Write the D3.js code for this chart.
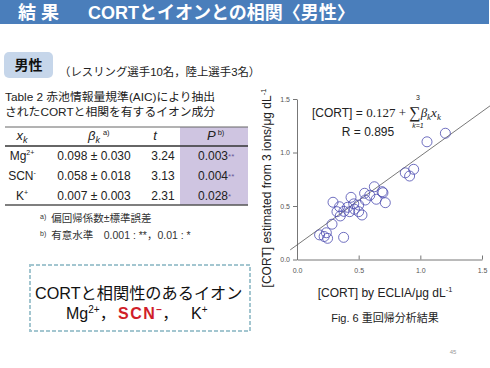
<!DOCTYPE html>
<html><head><meta charset="utf-8">
<script src="https://cdn.jsdelivr.net/npm/d3@7"></script>
<style>
body{margin:0;background:#fff}
svg{display:block}
text{font-family:"Liberation Sans",Arial,"Noto Sans CJK JP",sans-serif}
</style>
</head><body>
<script>
// ---------- data ----------
const ionNames = ["Mg", "SCN", "K"];
const ionCharges = ["2+", "-", "+"];
const betaValues = [0.098, 0.058, 0.007];
const betaErrors = [0.030, 0.018, 0.003];
const tValues = [3.24, 3.13, 2.31];
const pValues = [0.003, 0.004, 0.028];
const pStars = ["**", "**", "*"];

const measured = [1.203, 1.054, 0.946, 0.878, 0.913, 0.690, 0.627, 0.697, 0.716, 0.643, 0.548, 0.554,
  0.438, 0.292, 0.500, 0.410, 0.345, 0.324, 0.351, 0.427, 0.500, 0.527, 0.466, 0.380, 0.284, 0.183,
  0.238, 0.248, 0.220, 0.378, 0.590, 0.460];
const estimated = [1.180, 1.100, 0.843, 0.810, 0.780, 0.634, 0.680, 0.624, 0.531, 0.563, 0.619, 0.556,
  0.581, 0.535, 0.509, 0.488, 0.493, 0.447, 0.407, 0.447, 0.447, 0.416, 0.470, 0.450, 0.330, 0.230,
  0.250, 0.198, 0.215, 0.207, 0.600, 0.520];
const tickValues = [0, 0.5, 1.0, 1.5];
const fitLine = [[-0.055, 0.09], [1.57, 1.44]];

// ---------- svg ----------
const W = 490, H = 368;
const svg = d3.select("body").append("svg").attr("width", W).attr("height", H);
svg.append("rect").attr("width", W).attr("height", H).attr("fill", "#fff");

// title bar
svg.append("rect").attr("x", 0).attr("y", 0).attr("width", 489).attr("height", 24).attr("fill", "#4a7ebb");
svg.append("text").attr("x", 18).attr("y", 19).attr("fill", "#fff").attr("font-size", 18).attr("font-weight", "bold")
  .text("結 果");
svg.append("text").attr("x", 88).attr("y", 19).attr("fill", "#fff").attr("font-size", 18).attr("font-weight", "bold")
  .text("CORTとイオンとの相関〈男性〉");

// 男性 box
svg.append("rect").attr("x", 4).attr("y", 52).attr("width", 49).attr("height", 26).attr("rx", 5)
  .attr("fill", "#c6d6ea");
svg.append("text").attr("x", 28.5).attr("y", 70).attr("text-anchor", "middle").attr("font-size", 14)
  .attr("font-weight", "bold").attr("fill", "#111").text("男性");
svg.append("text").attr("x", 59).attr("y", 76).attr("font-size", 11.4).attr("fill", "#222")
  .text("（レスリング選手10名，陸上選手3名）");

// table caption
svg.append("text").attr("x", 5).attr("y", 101).attr("font-size", 11.8).attr("fill", "#222")
  .text("Table 2 赤池情報量規準(AIC)により抽出");
svg.append("text").attr("x", 5).attr("y", 116).attr("font-size", 11.8).attr("fill", "#222")
  .text("されたCORTと相関を有するイオン成分");

// table
const tbl = svg.append("g");
tbl.append("rect").attr("x", 180).attr("y", 127).attr("width", 68).attr("height", 78).attr("fill", "#cfc5e1");
tbl.append("line").attr("x1", 5).attr("x2", 248).attr("y1", 127).attr("y2", 127).attr("stroke", "#666").attr("stroke-width", 1);
tbl.append("line").attr("x1", 5).attr("x2", 248).attr("y1", 146).attr("y2", 146).attr("stroke", "#333").attr("stroke-width", 1.6);
tbl.append("line").attr("x1", 5).attr("x2", 248).attr("y1", 205).attr("y2", 205).attr("stroke", "#555").attr("stroke-width", 1.6);

const serif = "'Liberation Serif','Times New Roman',serif";
// header
let h = tbl.append("text").attr("x", 22).attr("y", 140).attr("text-anchor", "middle").attr("font-size", 13)
  .attr("font-family", serif).attr("font-style", "italic").attr("fill", "#222");
h.append("tspan").text("x");
h.append("tspan").attr("font-size", 9).attr("dy", 3).text("k");
h = tbl.append("text").attr("x", 88).attr("y", 140).attr("font-size", 13)
  .attr("font-family", serif).attr("font-style", "italic").attr("fill", "#222");
h.append("tspan").text("β");
h.append("tspan").attr("font-size", 9).attr("dy", 3).text("k");
h.append("tspan").attr("font-size", 7.5).attr("dy", -8).attr("dx", 3).attr("font-style", "normal")
  .attr("font-family", "Liberation Sans,Arial,sans-serif").text("a)");
tbl.append("text").attr("x", 155).attr("y", 140).attr("text-anchor", "middle").attr("font-size", 13)
  .attr("font-family", serif).attr("font-style", "italic").attr("fill", "#222").text("t");
h = tbl.append("text").attr("x", 207).attr("y", 140).attr("font-size", 13)
  .attr("font-family", serif).attr("font-style", "italic").attr("fill", "#222");
h.append("tspan").text("P");
h.append("tspan").attr("font-size", 7.5).attr("dy", -5).attr("dx", 2).attr("font-style", "normal")
  .attr("font-family", "Liberation Sans,Arial,sans-serif").text("b)");

const rowY = d3.scalePoint().domain(ionNames).range([159.5, 199.5]);
ionNames.forEach((name, i) => {
  const y = rowY(name);
  const t1 = tbl.append("text").attr("x", 22).attr("y", y).attr("text-anchor", "middle").attr("font-size", 12).attr("fill", "#222");
  t1.append("tspan").text(name);
  t1.append("tspan").attr("font-size", 7).attr("dy", -5).text(ionCharges[i]);
  tbl.append("text").attr("x", 94).attr("y", y).attr("text-anchor", "middle").attr("font-size", 12).attr("fill", "#222")
    .text(d3.format(".3f")(betaValues[i]) + " ± " + d3.format(".3f")(betaErrors[i]));
  tbl.append("text").attr("x", 163).attr("y", y).attr("text-anchor", "middle").attr("font-size", 12).attr("fill", "#222")
    .text(d3.format(".2f")(tValues[i]));
  const t4 = tbl.append("text").attr("x", 198).attr("y", y).attr("font-size", 12).attr("fill", "#222");
  t4.append("tspan").text(d3.format(".3f")(pValues[i]));
  t4.append("tspan").attr("font-size", 8).attr("fill", "#6a5a9a").attr("dy", -1).text(pStars[i]);
});

// footnotes
let f = svg.append("text").attr("x", 40).attr("y", 222).attr("font-size", 10.5).attr("fill", "#333");
f.append("tspan").attr("font-size", 7).attr("dy", -3).text("a)");
f.append("tspan").attr("dx", 5).attr("dy", 3).text("偏回帰係数±標準誤差");
f = svg.append("text").attr("x", 40).attr("y", 239).attr("font-size", 10.5).attr("fill", "#333");
f.append("tspan").attr("font-size", 7).attr("dy", -3).text("b)");
f.append("tspan").attr("dx", 5).attr("dy", 3).text("有意水準　0.001 : **，0.01 : *");

// dashed box
svg.append("rect").attr("x", 30).attr("y", 265).attr("width", 220).attr("height", 66)
  .attr("fill", "none").attr("stroke", "#a3c6d0").attr("stroke-width", 2).attr("stroke-dasharray", "4,2");
svg.append("text").attr("x", 35).attr("y", 299).attr("font-size", 16.2).attr("fill", "#111")
  .text("CORTと相関性のあるイオン");
const ionLine = svg.append("text").attr("x", 66).attr("y", 319).attr("font-size", 16).attr("fill", "#111");
ionLine.append("tspan").text("Mg");
ionLine.append("tspan").attr("font-size", 10).attr("dy", -6).text("2+");
ionLine.append("tspan").attr("dy", 6).text("，");
ionLine.append("tspan").attr("x", 118).attr("fill", "#d01e2a").attr("font-weight", "bold")
  .attr("letter-spacing", 1.5).text("SCN");
ionLine.append("tspan").attr("fill", "#d01e2a").attr("font-weight", "bold").attr("font-size", 10).attr("dy", -6).text("−");
ionLine.append("tspan").attr("dy", 6).text("，");
ionLine.append("tspan").attr("x", 191).text("K");
ionLine.append("tspan").attr("font-size", 10).attr("dy", -6).text("+");

// ---------- scatter ----------
const x = d3.scaleLinear().domain([0, 1.5]).range([297, 482]);
const y = d3.scaleLinear().domain([0, 1.5]).range([259.5, 99]);

const gx = svg.append("g").attr("transform", "translate(0,259.5)")
  .call(d3.axisBottom(x).tickValues(tickValues).tickFormat(d3.format(".1f")).tickSize(-4).tickSizeOuter(0).tickPadding(9));
const gy = svg.append("g").attr("transform", "translate(297,0)")
  .call(d3.axisLeft(y).tickValues(tickValues).tickFormat(d3.format(".1f")).tickSize(4).tickSizeOuter(0).tickPadding(3));
[gx, gy].forEach(g => {
  g.select(".domain").attr("stroke", "#777").attr("stroke-width", 1);
  g.selectAll(".tick line").attr("stroke", "#777");
  g.selectAll(".tick text").attr("fill", "#555").attr("font-size", 7).attr("font-family", "Liberation Sans,Arial,sans-serif");
});

const lineGen = d3.line().x(d => x(d[0])).y(d => y(d[1]));
svg.append("path").attr("d", lineGen(fitLine)).attr("fill", "none").attr("stroke", "#555").attr("stroke-width", 0.8);

svg.append("g").selectAll("circle").data(measured.map((m, i) => [m, estimated[i]])).join("circle")
  .attr("cx", d => x(d[0])).attr("cy", d => y(d[1])).attr("r", 5)
  .attr("fill", "none").attr("stroke", "#4b4bb0").attr("stroke-width", 0.8);

// axis labels
const yl = svg.append("text").attr("transform", "translate(271,188) rotate(-90)").attr("text-anchor", "middle")
  .attr("font-size", 12).attr("fill", "#222");
yl.append("tspan").text("[CORT] estimated from 3 ions/μg dL");
yl.append("tspan").attr("font-size", 7.5).attr("dy", -5).text("-1");
const xl = svg.append("text").attr("x", 385).attr("y", 297).attr("text-anchor", "middle")
  .attr("font-size", 12).attr("fill", "#222");
xl.append("tspan").text("[CORT] by ECLIA/μg dL");
xl.append("tspan").attr("font-size", 7.5).attr("dy", -5).text("-1");

svg.append("text").attr("x", 385).attr("y", 322).attr("text-anchor", "middle").attr("font-size", 11).attr("fill", "#222")
  .text("Fig. 6  重回帰分析結果");

// equation
const eq = svg.append("text").attr("x", 312).attr("y", 117).attr("font-size", 12).attr("fill", "#222");
eq.append("tspan").text("[CORT] = ");
eq.append("tspan").attr("font-family", serif).attr("font-size", 13).text("0.127 + ");
eq.append("tspan").attr("font-family", serif).attr("font-size", 16).attr("dy", 1).text("∑");
eq.append("tspan").attr("font-family", serif).attr("font-style", "italic").attr("font-size", 13).attr("dy", -1).text("β");
eq.append("tspan").attr("font-family", serif).attr("font-style", "italic").attr("font-size", 9).attr("dy", 3).text("k");
eq.append("tspan").attr("font-family", serif).attr("font-style", "italic").attr("font-size", 13).attr("dy", -3).text("x");
eq.append("tspan").attr("font-family", serif).attr("font-style", "italic").attr("font-size", 9).attr("dy", 3).text("k");
svg.append("text").attr("x", 418).attr("y", 100).attr("text-anchor", "middle").attr("font-size", 7)
  .attr("font-family", serif).attr("fill", "#222").text("3");
svg.append("text").attr("x", 418).attr("y", 128).attr("text-anchor", "middle").attr("font-size", 7)
  .attr("font-family", serif).attr("font-style", "italic").attr("fill", "#222").text("k=1");
svg.append("text").attr("x", 368).attr("y", 136).attr("text-anchor", "middle").attr("font-size", 12).attr("fill", "#222")
  .text("R = 0.895");

// page number
svg.append("text").attr("x", 453).attr("y", 354).attr("text-anchor", "middle").attr("font-size", 6).attr("fill", "#999").text("45");
</script>
</body></html>
